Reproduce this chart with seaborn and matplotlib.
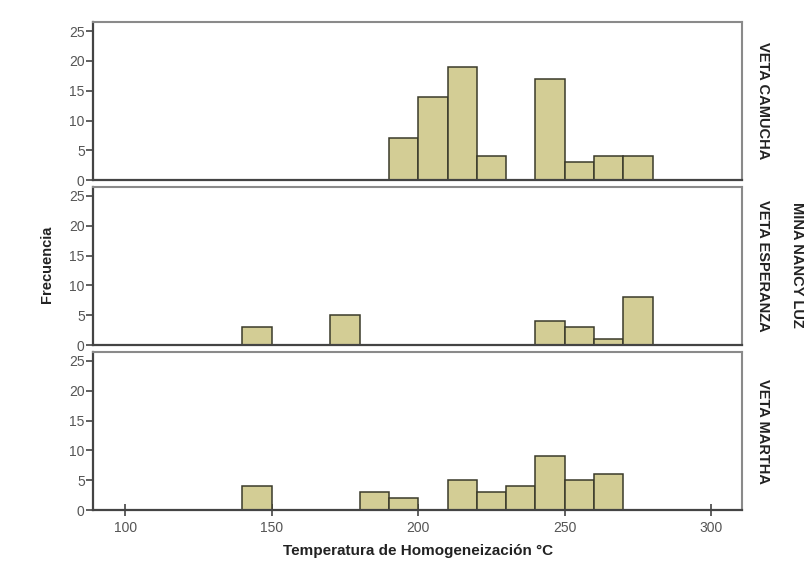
import numpy as np
import pandas as pd
import matplotlib
matplotlib.use("Agg")
import matplotlib.pyplot as plt
import seaborn as sns

# bin start (lower edge, °C) and counts, bin width 10
camucha_bins = [190, 200, 210, 220, 240, 250, 260, 270]
camucha_counts = [7, 14, 19, 4, 17, 3, 4, 4]

esperanza_bins = [140, 170, 240, 250, 260, 270]
esperanza_counts = [3, 5, 4, 3, 1, 8]

martha_bins = [140, 180, 190, 210, 220, 230, 240, 250, 260]
martha_counts = [4, 3, 2, 5, 3, 4, 9, 5, 6]

veins = ["VETA CAMUCHA", "VETA ESPERANZA", "VETA MARTHA"]
x_ticks = [100, 150, 200, 250, 300]
y_ticks = [0, 5, 10, 15, 20, 25]

frames = []
for name, bins, counts in zip(veins,
                              [camucha_bins, esperanza_bins, martha_bins],
                              [camucha_counts, esperanza_counts, martha_counts]):
    frames.append(pd.DataFrame({"veta": name,
                                "temp": np.array(bins) + 5,
                                "n": counts}))
df = pd.concat(frames, ignore_index=True)

sns.set_theme(style="white")
plt.rcParams["font.family"] = ["Liberation Sans", "DejaVu Sans"]

fig = plt.figure(figsize=(8.11, 5.63), dpi=100)
left, width, height = 0.1147, 0.8003, 0.2806
bottoms = [0.680, 0.3872, 0.0941]

for i, (name, b) in enumerate(zip(veins, bottoms)):
    ax = fig.add_axes([left, b, width, height])
    sub = df[df["veta"] == name]
    sns.histplot(data=sub, x="temp", weights="n", binwidth=10, binrange=(140, 280),
                 ax=ax, color="#d3cd95", edgecolor="#3a3a2a", linewidth=1.1, alpha=1)
    ax.set_xlim(89, 310.5)
    ax.set_ylim(0, 26.5)
    ax.set_yticks(y_ticks)
    ax.set_ylabel("")
    ax.set_xlabel("")
    for s in ["top", "right"]:
        ax.spines[s].set_color("#8a8a8a")
        ax.spines[s].set_linewidth(1.5)
    for s in ["left", "bottom"]:
        ax.spines[s].set_color("#444444")
        ax.spines[s].set_linewidth(1.6)
    ax.tick_params(axis="y", direction="out", length=5, width=1.2, color="#444444",
                   labelsize=10, labelcolor="#555555", pad=1, left=True)
    if i < 2:
        ax.set_xticks([])
    else:
        ax.set_xticks(x_ticks)
        ax.tick_params(axis="x", direction="inout", length=8, width=1.2, color="#444444",
                       labelsize=10, labelcolor="#555555", pad=4, bottom=True)
    ax.text(1.022, 0.5, name, transform=ax.transAxes, rotation=-90,
            ha="left", va="center", fontsize=10.5, fontweight="bold", color="#222222")

fig.text(0.983, 0.53, "MINA NANCY LUZ", rotation=-90, ha="center", va="center",
         fontsize=10.5, fontweight="bold", color="#222222")
fig.text(0.058, 0.53, "Frecuencia", rotation=90, ha="center", va="center",
         fontsize=10.5, fontweight="bold", color="#222222")
fig.text(0.515, 0.022, "Temperatura de Homogeneización °C", ha="center", va="center",
         fontsize=11, fontweight="bold", color="#222222")

plt.savefig("out.png", dpi=100)
